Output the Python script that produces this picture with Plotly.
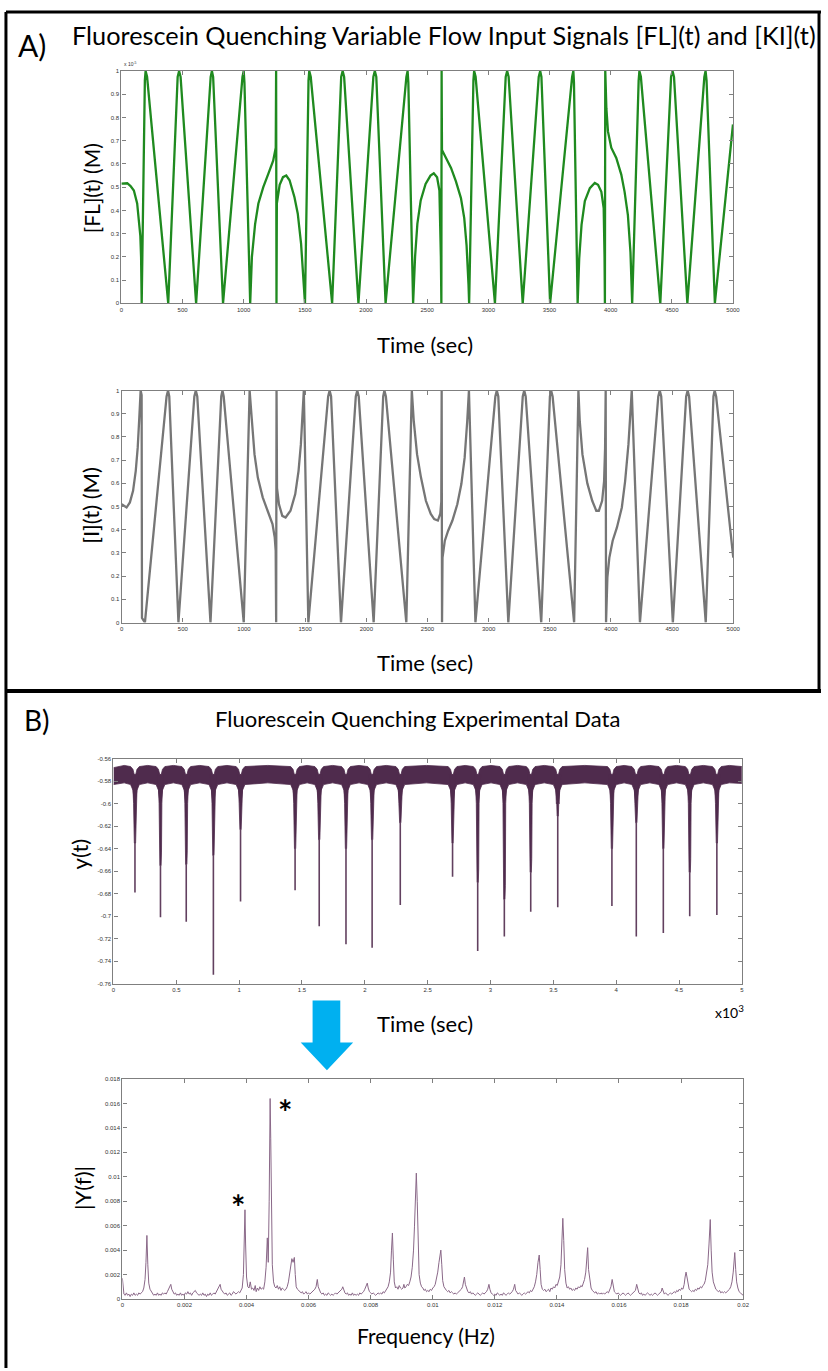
import plotly.graph_objects as go

W, H = 828, 1371
TEXT_FONT = "Lato, 'Open Sans', sans-serif"
TICK_FONT = "'Liberation Sans', Arial, sans-serif"

# ---------------- Panel A: input signals (time in s, values normalised) ----------------
# [FL](t) in units of 1e-5 M
fl_points = [
    (0, 0.515), (48, 0.517), (75, 0.505), (102, 0.486), (129, 0.43), (142, 0.37),
    (155, 0.29), (161, 0.2), (166, 0.0),
    (192, 0.96), (198, 1.0), (210, 0.975), (383, 0.0),
    (460, 0.975), (472, 1.0), (484, 0.975), (611, 0.0),
    (730, 0.975), (740, 1.0), (750, 0.975), (831, 0.0),
    (990, 0.975), (1000, 1.0), (1006, 0.95), (1053, 0.0),
    (1067, 0.2), (1093, 0.34), (1120, 0.43), (1160, 0.5), (1201, 0.557), (1241, 0.614),
    (1262, 0.67), (1265, 1.0), (1268, 0.0), (1271, 0.43), (1294, 0.51),
    (1321, 0.543), (1348, 0.55), (1375, 0.53), (1415, 0.457), (1442, 0.386),
    (1469, 0.257), (1487, 0.13), (1501, 0.0),
    (1530, 0.96), (1536, 1.0), (1548, 0.975), (1723, 0.0),
    (1797, 0.975), (1809, 1.0), (1821, 0.975), (1938, 0.0),
    (2060, 0.975), (2072, 1.0), (2084, 0.975), (2160, 0.0),
    (2330, 0.975), (2340, 1.0), (2346, 0.95), (2385, 0.0),
    (2401, 0.2), (2420, 0.343), (2447, 0.443), (2487, 0.514), (2527, 0.55),
    (2554, 0.56), (2581, 0.543), (2600, 0.486), (2612, 0.2), (2616, 0.0),
    (2618, 1.0), (2621, 0.66), (2654, 0.626), (2695, 0.583), (2735, 0.525),
    (2776, 0.453), (2803, 0.367), (2822, 0.25), (2838, 0.08), (2843, 0.0),
    (2878, 0.96), (2884, 1.0), (2896, 0.975), (3054, 0.0),
    (3142, 0.975), (3154, 1.0), (3166, 0.975), (3281, 0.0),
    (3412, 0.975), (3424, 1.0), (3434, 0.975), (3505, 0.0),
    (3685, 0.975), (3695, 1.0), (3700, 0.95), (3730, 0.0),
    (3743, 0.194), (3762, 0.338), (3789, 0.44),
    (3830, 0.496), (3870, 0.518), (3897, 0.51), (3924, 0.48), (3943, 0.41),
    (3950, 0.2), (3953, 0.0), (3956, 1.0), (3965, 0.84), (3978, 0.74),
    (4005, 0.67), (4046, 0.626), (4087, 0.554), (4114, 0.48), (4141, 0.38),
    (4162, 0.22), (4176, 0.0),
    (4229, 0.96), (4235, 1.0), (4247, 0.975), (4406, 0.0),
    (4494, 0.975), (4506, 1.0), (4518, 0.975), (4627, 0.0),
    (4766, 0.975), (4776, 1.0), (4784, 0.96), (4852, 0.0), (5000, 0.77),
]

# [I](t), normalised
ki_points = [
    (0, 0.51), (19, 0.504), (40, 0.496), (67, 0.518), (93, 0.568), (115, 0.654),
    (131, 0.754), (144, 0.883), (155, 1.0), (163, 0.98), (166, 0.02), (190, 0.0),
    (367, 0.975), (379, 1.0), (389, 0.975), (464, 0.0),
    (594, 0.975), (606, 1.0), (618, 0.975), (726, 0.0),
    (814, 0.975), (824, 1.0), (834, 0.975), (998, 0.0),
    (1041, 0.96), (1046, 1.0), (1065, 0.868), (1086, 0.725), (1113, 0.625), (1153, 0.54),
    (1193, 0.482), (1233, 0.425), (1251, 0.368), (1259, 0.31), (1263, 0.0),
    (1266, 1.0), (1270, 0.58), (1286, 0.51), (1313, 0.46), (1340, 0.453),
    (1380, 0.482), (1419, 0.554), (1446, 0.654), (1465, 0.768), (1481, 0.9),
    (1489, 1.0), (1526, 0.0),
    (1688, 0.975), (1700, 1.0), (1712, 0.975), (1793, 0.0),
    (1914, 0.975), (1926, 1.0), (1938, 0.975), (2060, 0.0),
    (2138, 0.975), (2148, 1.0), (2160, 0.975), (2327, 0.0),
    (2366, 0.96), (2372, 1.0), (2388, 0.868), (2415, 0.725),
    (2447, 0.625), (2487, 0.525), (2527, 0.468), (2555, 0.446), (2585, 0.44),
    (2605, 0.47), (2613, 0.52), (2616, 1.0), (2619, 0.0), (2623, 0.28),
    (2642, 0.353), (2669, 0.396), (2704, 0.44), (2744, 0.51), (2777, 0.597),
    (2804, 0.711), (2825, 0.868), (2839, 1.0), (2892, 0.0),
    (3055, 0.975), (3067, 1.0), (3079, 0.975), (3161, 0.0),
    (3279, 0.975), (3291, 1.0), (3303, 0.975), (3430, 0.0),
    (3501, 0.975), (3511, 1.0), (3523, 0.975), (3699, 0.0),
    (3729, 0.96), (3734, 1.0),
    (3745, 0.868), (3767, 0.725), (3807, 0.6), (3847, 0.525), (3880, 0.482),
    (3901, 0.482), (3928, 0.525), (3944, 0.61), (3952, 0.75), (3957, 1.0),
    (3960, 0.0), (3971, 0.196), (3987, 0.28), (4014, 0.353), (4049, 0.41),
    (4089, 0.496), (4116, 0.61), (4143, 0.768), (4162, 0.93), (4170, 1.0),
    (4237, 0.0),
    (4387, 0.975), (4399, 1.0), (4411, 0.975), (4506, 0.0),
    (4615, 0.975), (4627, 1.0), (4639, 0.975), (4775, 0.0),
    (4838, 0.975), (4848, 1.0), (4860, 0.975), (5000, 0.28),
]

time_ticks = [0, 500, 1000, 1500, 2000, 2500, 3000, 3500, 4000, 4500, 5000]
unit_ticks = [0, 0.1, 0.2, 0.3, 0.4, 0.5, 0.6, 0.7, 0.8, 0.9, 1]
unit_tick_text = ["0", "0.1", "0.2", "0.3", "0.4", "0.5", "0.6", "0.7", "0.8", "0.9", "1"]

# ---------------- Panel B: measured signal y(t), time in 10^3 s ----------------
band_top, band_bottom = -0.5660, -0.5815          # noisy baseline band
band_start = (-0.568, -0.583)
band_end = (-0.567, -0.582)
dip_time = [0.171, 0.374, 0.579, 0.795, 1.011, 1.445, 1.637, 1.850, 2.058, 2.282,
            2.698, 2.898, 3.110, 3.320, 3.535, 3.966, 4.160, 4.375, 4.585, 4.801]
dip_shoulder = [-0.635, -0.655, -0.654, -0.646, -0.623, -0.640, -0.632, -0.640, -0.632, -0.617,
                -0.635, -0.670, -0.685, -0.661, -0.611, -0.640, -0.617, -0.640, -0.661, -0.635]
dip_min = [-0.679, -0.701, -0.705, -0.752, -0.687, -0.677, -0.709, -0.725, -0.728, -0.690,
           -0.665, -0.731, -0.718, -0.696, -0.692, -0.691, -0.718, -0.715, -0.700, -0.699]

yt_xticks = [0, 0.5, 1, 1.5, 2, 2.5, 3, 3.5, 4, 4.5, 5]
yt_xtext = ["0", "0.5", "1", "1.5", "2", "2.5", "3", "3.5", "4", "4.5", "5"]
yt_yticks = [-0.76, -0.74, -0.72, -0.70, -0.68, -0.66, -0.64, -0.62, -0.60, -0.58, -0.56]
yt_ytext = ["-0.76", "-0.74", "-0.72", "-0.7", "-0.68", "-0.66", "-0.64", "-0.62", "-0.6", "-0.58", "-0.56"]

# ---------------- |Y(f)| spectrum: (frequency in 1e-4 Hz, amplitude in 1e-4) ----------------
spectrum_points = [
    (0.0, 17), (0.2, 8), (0.5, 4), (0.9, 3), (1.3, 5), (1.7, 3), (2.1, 4), (2.5, 2), (2.9, 4),
    (3.3, 3), (3.7, 5), (4.1, 3), (4.5, 4), (4.9, 3), (5.3, 5), (5.7, 4), (6.1, 5), (6.5, 6),
    (6.9, 9), (7.3, 16), (7.6, 30), (7.9, 52), (8.2, 28), (8.5, 13), (8.9, 8), (9.3, 6), (9.7, 5),
    (10.1, 3), (10.5, 4), (10.9, 3), (11.3, 5), (11.7, 3), (12.1, 4), (12.5, 3), (12.9, 5),
    (13.3, 4), (13.7, 5), (14.1, 4), (14.5, 6), (14.9, 8), (15.3, 10), (15.6, 12), (15.9, 8),
    (16.3, 6), (16.7, 4), (17.1, 5), (17.5, 3), (17.9, 4), (18.3, 3), (18.7, 5), (19.1, 3),
    (19.5, 4), (19.9, 3), (20.3, 5), (20.7, 4), (21.1, 6), (21.5, 4), (21.9, 5), (22.3, 3),
    (22.7, 5), (23.1, 6), (23.5, 7), (23.9, 5), (24.3, 4), (24.7, 3), (25.1, 4), (25.5, 3),
    (25.9, 5), (26.3, 3), (26.7, 4), (27.1, 2), (27.5, 4), (27.9, 3), (28.3, 5), (28.7, 3),
    (29.1, 4), (29.5, 5), (29.9, 4), (30.3, 6), (30.7, 7), (31.1, 9), (31.5, 12), (31.8, 8),
    (32.2, 6), (32.6, 5), (33.0, 4), (33.4, 5), (33.8, 3), (34.2, 4), (34.6, 5), (35.0, 3),
    (35.4, 4), (35.8, 6), (36.2, 5), (36.6, 4), (37.0, 5), (37.4, 6), (37.8, 5), (38.2, 7),
    (38.6, 9), (39.0, 20), (39.3, 58), (39.5, 73), (39.7, 45), (40.0, 18), (40.4, 10),
    (40.8, 9), (41.2, 14), (41.6, 8), (42.0, 9), (42.4, 7), (42.8, 11), (43.1, 6), (43.5, 9),
    (43.9, 7), (44.3, 10), (44.7, 8), (45.1, 9), (45.5, 8), (45.9, 14), (46.3, 26), (46.7, 50),
    (47.0, 30), (47.3, 80), (47.6, 164), (47.8, 131), (48.0, 60), (48.3, 28), (48.7, 14),
    (49.1, 10), (49.5, 9), (49.9, 11), (50.3, 8), (50.7, 10), (51.1, 7), (51.5, 9), (51.9, 8),
    (52.3, 7), (52.7, 8), (53.1, 10), (53.5, 14), (53.9, 22), (54.2, 28), (54.6, 33),
    (55.0, 30), (55.4, 34), (55.7, 20), (56.0, 10), (56.4, 8), (56.8, 7), (57.2, 6), (57.6, 5),
    (58.0, 6), (58.4, 4), (58.8, 5), (59.2, 6), (59.6, 4), (60.0, 5), (60.4, 4), (60.8, 5),
    (61.2, 6), (61.6, 7), (62.0, 8), (62.4, 10), (62.8, 16), (63.1, 10), (63.5, 7), (63.9, 5),
    (64.3, 4), (64.7, 5), (65.1, 3), (65.5, 4), (65.9, 3), (66.3, 5), (66.7, 4), (67.1, 3),
    (67.5, 4), (67.9, 3), (68.3, 4), (68.7, 5), (69.1, 4), (69.5, 5), (69.9, 6), (70.3, 7),
    (70.7, 8), (71.0, 10), (71.3, 7), (71.7, 5), (72.1, 4), (72.5, 5), (72.9, 3), (73.3, 4),
    (73.7, 3), (74.1, 5), (74.5, 3), (74.9, 4), (75.3, 3), (75.7, 4), (76.1, 3), (76.5, 5),
    (76.9, 4), (77.3, 5), (77.7, 6), (78.1, 8), (78.5, 10), (78.9, 13), (79.2, 9), (79.6, 6),
    (80.0, 5), (80.4, 4), (80.8, 5), (81.2, 4), (81.6, 3), (82.0, 4), (82.4, 5), (82.8, 4),
    (83.2, 5), (83.6, 4), (84.0, 6), (84.4, 5), (84.8, 7), (85.2, 8), (85.6, 10), (86.0, 14),
    (86.4, 22), (86.7, 40), (87.0, 54), (87.3, 32), (87.6, 14), (88.0, 9), (88.4, 10),
    (88.8, 8), (89.2, 11), (89.6, 9), (90.0, 8), (90.4, 9), (90.7, 12), (91.0, 9), (91.4, 10),
    (91.8, 12), (92.2, 11), (92.6, 14), (93.0, 18), (93.4, 26), (93.8, 40), (94.1, 59),
    (94.4, 90), (94.7, 103), (95.0, 80), (95.3, 40), (95.6, 20), (96.0, 13), (96.4, 10),
    (96.8, 9), (97.2, 7), (97.6, 8), (98.0, 6), (98.4, 7), (98.8, 6), (99.2, 8), (99.6, 7),
    (100.0, 9), (100.4, 10), (100.8, 12), (101.2, 16), (101.6, 22), (102.0, 30), (102.3, 38),
    (102.6, 40), (102.9, 28), (103.2, 15), (103.6, 10), (104.0, 8), (104.4, 7), (104.8, 6),
    (105.2, 7), (105.6, 5), (106.0, 6), (106.4, 5), (106.8, 4), (107.2, 5), (107.6, 4),
    (108.0, 5), (108.4, 6), (108.8, 7), (109.2, 8), (109.6, 10), (109.9, 14), (110.2, 18),
    (110.5, 12), (110.9, 8), (111.3, 6), (111.7, 5), (112.1, 6), (112.5, 4), (112.9, 5),
    (113.3, 4), (113.7, 3), (114.1, 4), (114.5, 5), (114.9, 4), (115.3, 3), (115.7, 4),
    (116.1, 5), (116.5, 4), (116.9, 5), (117.3, 6), (117.7, 8), (118.1, 12), (118.4, 8),
    (118.8, 5), (119.2, 4), (119.6, 3), (120.0, 4), (120.4, 3), (120.8, 5), (121.2, 4),
    (121.6, 3), (122.0, 4), (122.4, 3), (122.8, 5), (123.2, 4), (123.6, 3), (124.0, 4),
    (124.4, 5), (124.8, 4), (125.2, 5), (125.6, 6), (126.0, 8), (126.4, 12), (126.7, 7),
    (127.1, 5), (127.5, 4), (127.9, 5), (128.3, 4), (128.7, 3), (129.1, 4), (129.5, 5),
    (129.9, 4), (130.3, 5), (130.7, 6), (131.1, 5), (131.5, 7), (131.9, 6), (132.3, 8),
    (132.7, 10), (133.1, 14), (133.5, 20), (133.9, 30), (134.3, 36), (134.6, 24), (134.9, 12),
    (135.3, 8), (135.7, 7), (136.1, 8), (136.5, 6), (136.9, 7), (137.3, 8), (137.7, 6),
    (138.1, 9), (138.5, 8), (138.9, 10), (139.3, 9), (139.7, 12), (140.1, 11), (140.5, 14),
    (140.9, 18), (141.3, 28), (141.6, 50), (141.9, 66), (142.2, 48), (142.5, 24), (142.9, 13),
    (143.3, 9), (143.7, 10), (144.1, 8), (144.5, 9), (144.9, 7), (145.3, 8), (145.7, 7),
    (146.1, 9), (146.5, 8), (146.9, 10), (147.3, 9), (147.7, 11), (148.1, 10), (148.5, 13),
    (148.9, 16), (149.3, 22), (149.6, 36), (149.9, 42), (150.2, 24), (150.6, 14), (151.0, 9),
    (151.4, 7), (151.8, 6), (152.2, 5), (152.6, 6), (153.0, 4), (153.4, 5), (153.8, 4),
    (154.2, 5), (154.6, 4), (155.0, 5), (155.4, 4), (155.8, 5), (156.2, 6), (156.6, 5),
    (157.0, 7), (157.4, 10), (157.8, 16), (158.1, 10), (158.5, 6), (158.9, 5), (159.3, 4),
    (159.7, 5), (160.1, 4), (160.5, 3), (160.9, 4), (161.3, 5), (161.7, 4), (162.1, 3),
    (162.5, 4), (162.9, 5), (163.3, 4), (163.7, 3), (164.1, 4), (164.5, 5), (164.9, 6),
    (165.3, 7), (165.7, 12), (166.0, 8), (166.4, 5), (166.8, 4), (167.2, 5), (167.6, 3),
    (168.0, 4), (168.4, 3), (168.8, 4), (169.2, 5), (169.6, 4), (170.0, 3), (170.4, 4),
    (170.8, 3), (171.2, 4), (171.6, 5), (172.0, 4), (172.4, 3), (172.8, 4), (173.2, 5),
    (173.6, 6), (173.9, 9), (174.2, 6), (174.6, 4), (175.0, 5), (175.4, 4), (175.8, 3),
    (176.2, 4), (176.6, 5), (177.0, 4), (177.4, 5), (177.8, 6), (178.2, 5), (178.6, 7),
    (179.0, 6), (179.4, 8), (179.8, 7), (180.2, 9), (180.6, 8), (181.0, 12), (181.3, 18),
    (181.6, 22), (181.9, 18), (182.2, 12), (182.6, 8), (183.0, 7), (183.4, 6), (183.8, 7),
    (184.2, 6), (184.6, 8), (185.0, 7), (185.4, 9), (185.8, 8), (186.2, 10), (186.6, 9),
    (187.0, 11), (187.4, 12), (187.8, 15), (188.2, 20), (188.6, 28), (189.0, 45), (189.4, 65),
    (189.7, 40), (190.0, 22), (190.4, 14), (190.8, 10), (191.2, 8), (191.6, 7), (192.0, 6),
    (192.4, 7), (192.8, 5), (193.2, 6), (193.6, 5), (194.0, 6), (194.4, 5), (194.8, 6),
    (195.2, 7), (195.6, 8), (196.0, 10), (196.4, 14), (196.8, 22), (197.1, 32), (197.3, 38),
    (197.6, 24), (197.9, 14), (198.3, 9), (198.7, 6), (199.1, 5), (199.5, 4), (200.0, 3),
]
freq_ticks = [0, 0.002, 0.004, 0.006, 0.008, 0.01, 0.012, 0.014, 0.016, 0.018, 0.02]
freq_text = ["0", "0.002", "0.004", "0.006", "0.008", "0.01", "0.012", "0.014", "0.016", "0.018", "0.02"]
amp_ticks = [0, 0.002, 0.004, 0.006, 0.008, 0.01, 0.012, 0.014, 0.016, 0.018]
amp_text = ["0", "0.002", "0.004", "0.006", "0.008", "0.01", "0.012", "0.014", "0.016", "0.018"]
star_freq = [0.00374, 0.00524]
star_amp = [0.0076, 0.0153]

# ---------------- helpers ----------------
def px(x):
    return x / W


def py(y):
    return 1 - y / H


def axis(x0, x1, rng, vals, text, anchor, vertical=False):
    lo, hi = (py(x1), py(x0)) if vertical else (px(x0), px(x1))
    return dict(
        domain=[lo, hi], range=rng, anchor=anchor, tickmode="array",
        tickvals=vals, ticktext=text, showline=True, linecolor="#7f7f7f",
        linewidth=1.3, mirror="ticks", ticks="inside", ticklen=4, tickwidth=1,
        tickcolor="#7f7f7f", showgrid=False, zeroline=False, fixedrange=True,
        tickfont=dict(family=TICK_FONT, size=6, color="#333333"),
    )


fig = go.Figure()

# Panel A traces
fl_time, fl_value = zip(*fl_points)
ki_time, ki_value = zip(*ki_points)
fig.add_trace(go.Scatter(x=fl_time, y=fl_value, mode="lines", xaxis="x", yaxis="y",
                         line=dict(color="#1f8a1f", width=2.3)))
fig.add_trace(go.Scatter(x=ki_time, y=ki_value, mode="lines", xaxis="x2", yaxis="y2",
                         line=dict(color="#767676", width=2.3)))

# Panel B: y(t) noise band, slightly drooping next to each dip
band_color = "#4f2b4d"
edges = [0.0] + dip_time + [5.0]
top_x, top_y, bot_x, bot_y = [], [], [], []
bend = [(0.006, -0.574, -0.597), (0.016, -0.5695, -0.588), (0.035, -0.567, -0.583)]
for a, b in zip(edges[:-1], edges[1:]):
    pts = []
    if a == 0.0:
        pts.append((0.0, band_start[0], band_start[1]))
    else:
        pts += [(a + d, t, l) for d, t, l in bend]
    pts.append(((a + b) / 2, band_top, band_bottom))
    if b == 5.0:
        pts.append((5.0, band_end[0], band_end[1]))
    else:
        pts += [(b - d, t, l) for d, t, l in reversed(bend)]
    for x, t, l in pts:
        top_x.append(x); top_y.append(t); bot_x.append(x); bot_y.append(l)

fig.add_trace(go.Scatter(x=top_x, y=top_y, mode="lines", xaxis="x3", yaxis="y3",
                         line=dict(color=band_color, width=0.8)))
fig.add_trace(go.Scatter(x=bot_x, y=bot_y, mode="lines", xaxis="x3", yaxis="y3",
                         fill="tonexty", fillcolor=band_color,
                         line=dict(color=band_color, width=0.8)))

# Each dip: a tapering wedge down to its shoulder, then a thin tail down to the minimum
wedge_x, wedge_y, tail_x, tail_y = [], [], [], []
for t, s, m in zip(dip_time, dip_shoulder, dip_min):
    shape = [(-0.028, -0.574), (-0.016, -0.586), (-0.011, -0.600), (-0.008, s + 0.012),
             (-0.005, s), (0.005, s), (0.008, s + 0.012), (0.011, -0.600),
             (0.016, -0.586), (0.028, -0.574)]
    wedge_x += [t + d for d, _ in shape] + [None]
    wedge_y += [v for _, v in shape] + [None]
    tail_x += [t, t, None]
    tail_y += [s, m, None]
fig.add_trace(go.Scatter(x=wedge_x, y=wedge_y, mode="lines", xaxis="x3", yaxis="y3",
                         fill="toself", fillcolor=band_color,
                         line=dict(color=band_color, width=0.8)))
fig.add_trace(go.Scatter(x=tail_x, y=tail_y, mode="lines", xaxis="x3", yaxis="y3",
                         line=dict(color="#62405f", width=1.6)))

# Spectrum
sf, sa = zip(*spectrum_points)
fig.add_trace(go.Scatter(x=[f * 1e-4 for f in sf], y=[a * 1e-4 for a in sa], mode="lines",
                         xaxis="x4", yaxis="y4", line=dict(color="#8a6888", width=1)))

# ---------------- layout ----------------
layout = dict(
    width=W, height=H, margin=dict(l=0, r=0, t=0, b=0),
    paper_bgcolor="white", plot_bgcolor="white", showlegend=False,
    xaxis=axis(120.7, 739, [0, 5000], time_ticks, [str(v) for v in time_ticks], "y"),
    yaxis=axis(68.3, 301.7, [0, 1], unit_ticks, unit_tick_text, "x", vertical=True),
    xaxis2=axis(121, 739.3, [0, 5000], time_ticks, [str(v) for v in time_ticks], "y2"),
    yaxis2=axis(389.3, 622.3, [0, 1], unit_ticks, unit_tick_text, "x2", vertical=True),
    xaxis3=axis(112.7, 748, [0, 5], yt_xticks, yt_xtext, "y3"),
    yaxis3=axis(759, 985, [-0.76, -0.56], yt_yticks, yt_ytext, "x3", vertical=True),
    xaxis4=axis(121.7, 749.3, [0, 0.02], freq_ticks, freq_text, "y4"),
    yaxis4=axis(1080.7, 1301.7, [0, 0.018], amp_ticks, amp_text, "x4", vertical=True),
)
fig.update_layout(**layout)


def note(x, y, text, size, angle=0, xanchor="center", yanchor="middle", family=TEXT_FONT, color="black"):
    fig.add_annotation(x=px(x), y=py(y), xref="paper", yref="paper", text=text,
                       showarrow=False, textangle=angle, xanchor=xanchor, yanchor=yanchor,
                       font=dict(family=family, size=size, color=color))


# Panel headings
note(14, 42, "A)", 30, xanchor="left")
note(447, 32, "Fluorescein Quenching Variable Flow Input Signals [FL](t) and [KI](t)", 25.3)
note(20, 720, "B)", 28, xanchor="left")
note(420, 719, "Fluorescein Quenching Experimental Data", 22)

# Axis titles
note(428, 343, "Time (sec)", 22)
note(90, 186, "[FL](t) (M)", 21, angle=-90)
note(428, 662, "Time (sec)", 22)
note(90, 505, "[I](t) (M)", 22, angle=-90)
note(428, 1025, "Time (sec)", 22)
note(78, 855, "y(t)", 22, angle=-90)
note(429, 1338, "Frequency (Hz)", 21)
note(82, 1190, "|Y(f)|", 22, angle=-90)

# Axis multipliers
note(121, 66, "x 10<sup>-5</sup>", 5, xanchor="left", yanchor="bottom", family=TICK_FONT, color="#333333")
note(719, 1013, "x10<sup>3</sup>", 14, xanchor="left")

# Peak markers on the spectrum
for f, a in zip(star_freq, star_amp):
    fig.add_annotation(x=f, y=a, xref="x4", yref="y4", text="<b>*</b>", showarrow=False,
                       font=dict(family=TEXT_FONT, size=34, color="black"))

# Frame lines around panels
frame = dict(type="line", xref="paper", yref="paper", line=dict(color="black", width=3))
fig.add_shape(**frame, x0=px(4), x1=px(828), y0=py(9), y1=py(9))
fig.add_shape(**frame, x0=px(4), x1=px(4), y0=py(9), y1=py(1371))
fig.add_shape(**frame, x0=px(826), x1=px(826), y0=py(9), y1=py(691))
fig.add_shape(type="line", xref="paper", yref="paper", x0=px(4), x1=px(828), y0=py(691), y1=py(691),
              line=dict(color="black", width=4))

# Down arrow from y(t) to its spectrum
arrow = [(314, 1002), (342, 1002), (342, 1044), (355, 1044), (328.5, 1072), (302, 1044), (314, 1044)]
path = "M " + " L ".join(f"{px(x):.5f},{py(y):.5f}" for x, y in arrow) + " Z"
fig.add_shape(type="path", xref="paper", yref="paper", path=path,
              fillcolor="#00b0f0", line=dict(width=0))

fig.write_html("out.html")
